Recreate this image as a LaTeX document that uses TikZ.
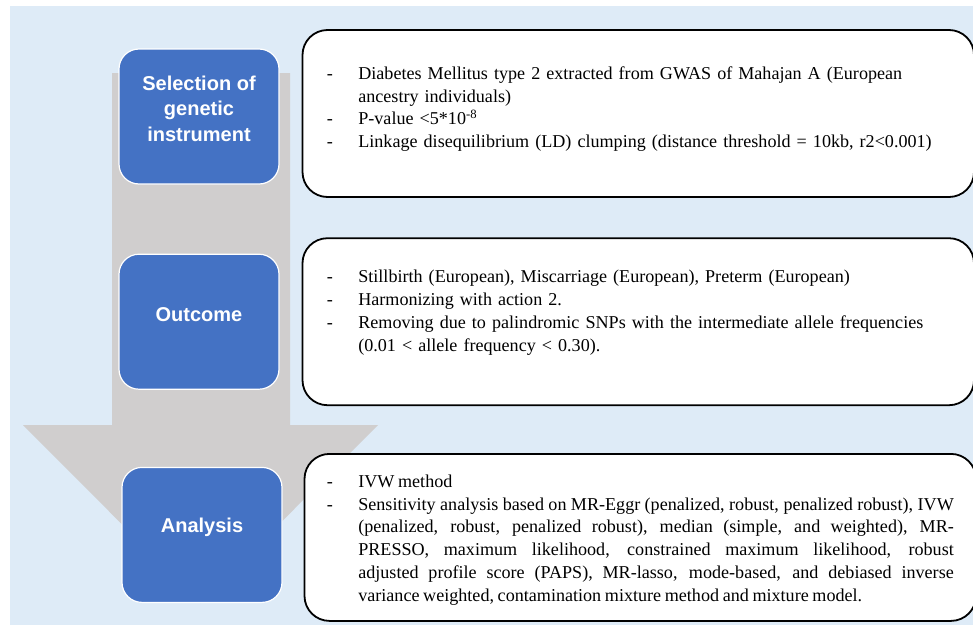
\documentclass[tikz,border=0pt]{standalone}
\usepackage{fontspec}
\setmainfont{Liberation Serif}
\newfontfamily\stagefont{Liberation Sans}
\usetikzlibrary{positioning}

\definecolor{panelblue}{RGB}{222,235,247}
\definecolor{flowgray}{RGB}{208,206,206}
\definecolor{stageblue}{RGB}{68,114,196}

\newenvironment{dashitems}{%
  \begin{list}{-}{\setlength{\leftmargin}{31.5pt}\setlength{\labelwidth}{6pt}%
    \setlength{\labelsep}{25.5pt}\setlength{\itemsep}{0pt}\setlength{\topsep}{0pt}%
    \setlength{\parsep}{0pt}\setlength{\partopsep}{0pt}\setlength{\itemindent}{0pt}}}%
  {\end{list}}

\tikzset{
  stage/.style={draw=white, line width=1.2pt, fill=stageblue, rounded corners=20pt,
    minimum width=160pt, minimum height=135pt},
  stagetext/.style={text=white, font=\stagefont\bfseries\fontsize{20}{25.5}\selectfont,
    align=center, inner sep=0pt},
  note/.style={draw=black, line width=1.8pt, fill=white, rounded corners=25pt,
    minimum width=671.5pt, minimum height=167pt},
  notetext/.style={font=\fontsize{18.1}{22.8}\selectfont, text width=627pt,
    inner sep=0pt, anchor=west},
}

\begin{document}
\begin{tikzpicture}[x=1pt, y=-1pt, node distance=69pt]
\useasboundingbox (0,0) rectangle (973,624);
\fill[panelblue] (10,6) rectangle (980,630);

% flow arrow behind the stages
\fill[flowgray] (112,73) -- (290,73) -- (290,425) -- (378,425) -- (200.5,603)
  -- (23,425) -- (112,425) -- cycle;

\node[stage] (S1) at (199,116.5) {};
\node[stage] (S2) [below=of S1] {};
\node[stage] (S3) [below=77pt of S2, xshift=3pt] {};

\node[stagetext] (S1t) at ([yshift=8pt]S1.center) {Selection of\\genetic\\instrument};
\node[stagetext] (S2t) at ([yshift=7.5pt]S2.center) {Outcome};
\node[stagetext] (S3t) at ([yshift=8pt]S3.center) {Analysis};

\node[note] (A) [right=22pt of S1, yshift=3pt] {};
\node[note] (B) [right=22pt of S2] {};
\node[note] (C) [right=21pt of S3, yshift=-2.5pt] {};

\node[notetext] (At) at ([xshift=25pt, yshift=9.5pt]A.west) {\raggedright
  \begin{dashitems}
  \item Diabetes Mellitus type 2 extracted from GWAS of Mahajan A (European\newline
    ancestry individuals)
  \item P-value <5*10\textsuperscript{-8}
  \item Linkage disequilibrium (LD) clumping (distance threshold = 10kb, r2<0.001)
  \end{dashitems}};

\node[notetext] (Bt) at ([xshift=25pt, yshift=14pt]B.west) {\raggedright
  \begin{dashitems}
  \item Stillbirth (European), Miscarriage (European), Preterm (European)
  \item Harmonizing with action 2.
  \item Removing due to palindromic SNPs with the intermediate allele frequencies\newline
    (0.01 < allele frequency < 0.30).
  \end{dashitems}};

\node[notetext, align=justify] (Ct) at ([xshift=23pt, yshift=2.5pt]C.west) {%
  \spaceskip=0.2em plus 1em minus 0.05em
  \begin{dashitems}
  \item IVW method
  \item Sensitivity analysis based on MR-Eggr (penalized, robust, penalized robust), IVW\linebreak
    (penalized, robust, penalized robust), median (simple, and weighted), MR-\linebreak
    PRESSO, maximum likelihood, constrained maximum likelihood, robust\linebreak
    adjusted profile score (PAPS), MR-lasso, mode-based, and debiased inverse\linebreak
    variance weighted, contamination mixture method and mixture model.
  \end{dashitems}};
\end{tikzpicture}
\end{document}
